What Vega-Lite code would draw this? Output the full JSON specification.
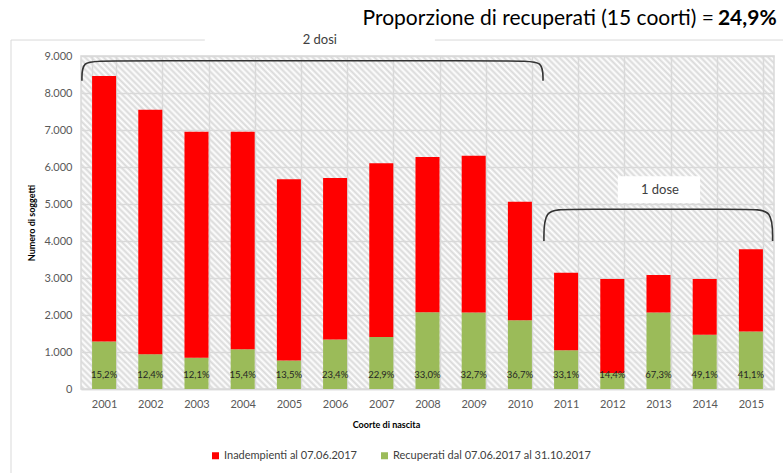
{
  "$schema": "https://vega.github.io/schema/vega-lite/v6.json",
  "width": 693,
  "height": 333,
  "autosize": "none",
  "padding": {"left": 81, "top": 56, "right": 9, "bottom": 84},
  "background": "white",
  "config": {
    "font": "Lato",
    "view": {
      "stroke": "#d9d9d9",
      "strokeWidth": 1.5,
      "fill": {
        "gradient": "linear", "x1": 0, "y1": 1, "x2": 1.203, "y2": 0.4225,
        "stops": [
{"offset":0,"color":"#fff"},{"offset":0.003,"color":"#d9d9d9"},{"offset":0.006,"color":"#fff"},{"offset":0.009,"color":"#d9d9d9"},{"offset":0.012,"color":"#fff"},{"offset":0.015,"color":"#d9d9d9"},{"offset":0.018,"color":"#fff"},{"offset":0.021,"color":"#d9d9d9"},{"offset":0.024,"color":"#fff"},{"offset":0.027,"color":"#d9d9d9"},
{"offset":0.03,"color":"#fff"},{"offset":0.033,"color":"#d9d9d9"},{"offset":0.036,"color":"#fff"},{"offset":0.039,"color":"#d9d9d9"},{"offset":0.042,"color":"#fff"},{"offset":0.045,"color":"#d9d9d9"},{"offset":0.048,"color":"#fff"},{"offset":0.051,"color":"#d9d9d9"},{"offset":0.054,"color":"#fff"},{"offset":0.057,"color":"#d9d9d9"},
{"offset":0.06,"color":"#fff"},{"offset":0.063,"color":"#d9d9d9"},{"offset":0.066,"color":"#fff"},{"offset":0.069,"color":"#d9d9d9"},{"offset":0.072,"color":"#fff"},{"offset":0.075,"color":"#d9d9d9"},{"offset":0.078,"color":"#fff"},{"offset":0.081,"color":"#d9d9d9"},{"offset":0.084,"color":"#fff"},{"offset":0.087,"color":"#d9d9d9"},
{"offset":0.09,"color":"#fff"},{"offset":0.093,"color":"#d9d9d9"},{"offset":0.096,"color":"#fff"},{"offset":0.099,"color":"#d9d9d9"},{"offset":0.102,"color":"#fff"},{"offset":0.105,"color":"#d9d9d9"},{"offset":0.108,"color":"#fff"},{"offset":0.111,"color":"#d9d9d9"},{"offset":0.114,"color":"#fff"},{"offset":0.117,"color":"#d9d9d9"},
{"offset":0.12,"color":"#fff"},{"offset":0.123,"color":"#d9d9d9"},{"offset":0.126,"color":"#fff"},{"offset":0.129,"color":"#d9d9d9"},{"offset":0.132,"color":"#fff"},{"offset":0.135,"color":"#d9d9d9"},{"offset":0.138,"color":"#fff"},{"offset":0.141,"color":"#d9d9d9"},{"offset":0.144,"color":"#fff"},{"offset":0.147,"color":"#d9d9d9"},
{"offset":0.15,"color":"#fff"},{"offset":0.153,"color":"#d9d9d9"},{"offset":0.156,"color":"#fff"},{"offset":0.159,"color":"#d9d9d9"},{"offset":0.162,"color":"#fff"},{"offset":0.165,"color":"#d9d9d9"},{"offset":0.168,"color":"#fff"},{"offset":0.171,"color":"#d9d9d9"},{"offset":0.174,"color":"#fff"},{"offset":0.177,"color":"#d9d9d9"},
{"offset":0.18,"color":"#fff"},{"offset":0.183,"color":"#d9d9d9"},{"offset":0.186,"color":"#fff"},{"offset":0.189,"color":"#d9d9d9"},{"offset":0.192,"color":"#fff"},{"offset":0.195,"color":"#d9d9d9"},{"offset":0.198,"color":"#fff"},{"offset":0.201,"color":"#d9d9d9"},{"offset":0.204,"color":"#fff"},{"offset":0.207,"color":"#d9d9d9"},
{"offset":0.21,"color":"#fff"},{"offset":0.213,"color":"#d9d9d9"},{"offset":0.216,"color":"#fff"},{"offset":0.219,"color":"#d9d9d9"},{"offset":0.222,"color":"#fff"},{"offset":0.225,"color":"#d9d9d9"},{"offset":0.228,"color":"#fff"},{"offset":0.231,"color":"#d9d9d9"},{"offset":0.234,"color":"#fff"},{"offset":0.237,"color":"#d9d9d9"},
{"offset":0.24,"color":"#fff"},{"offset":0.243,"color":"#d9d9d9"},{"offset":0.246,"color":"#fff"},{"offset":0.249,"color":"#d9d9d9"},{"offset":0.252,"color":"#fff"},{"offset":0.255,"color":"#d9d9d9"},{"offset":0.258,"color":"#fff"},{"offset":0.261,"color":"#d9d9d9"},{"offset":0.264,"color":"#fff"},{"offset":0.267,"color":"#d9d9d9"},
{"offset":0.27,"color":"#fff"},{"offset":0.273,"color":"#d9d9d9"},{"offset":0.276,"color":"#fff"},{"offset":0.279,"color":"#d9d9d9"},{"offset":0.282,"color":"#fff"},{"offset":0.285,"color":"#d9d9d9"},{"offset":0.288,"color":"#fff"},{"offset":0.291,"color":"#d9d9d9"},{"offset":0.294,"color":"#fff"},{"offset":0.297,"color":"#d9d9d9"},
{"offset":0.3,"color":"#fff"},{"offset":0.303,"color":"#d9d9d9"},{"offset":0.306,"color":"#fff"},{"offset":0.309,"color":"#d9d9d9"},{"offset":0.312,"color":"#fff"},{"offset":0.315,"color":"#d9d9d9"},{"offset":0.318,"color":"#fff"},{"offset":0.321,"color":"#d9d9d9"},{"offset":0.324,"color":"#fff"},{"offset":0.327,"color":"#d9d9d9"},
{"offset":0.33,"color":"#fff"},{"offset":0.333,"color":"#d9d9d9"},{"offset":0.336,"color":"#fff"},{"offset":0.339,"color":"#d9d9d9"},{"offset":0.342,"color":"#fff"},{"offset":0.345,"color":"#d9d9d9"},{"offset":0.348,"color":"#fff"},{"offset":0.351,"color":"#d9d9d9"},{"offset":0.354,"color":"#fff"},{"offset":0.357,"color":"#d9d9d9"},
{"offset":0.36,"color":"#fff"},{"offset":0.363,"color":"#d9d9d9"},{"offset":0.366,"color":"#fff"},{"offset":0.369,"color":"#d9d9d9"},{"offset":0.372,"color":"#fff"},{"offset":0.375,"color":"#d9d9d9"},{"offset":0.378,"color":"#fff"},{"offset":0.381,"color":"#d9d9d9"},{"offset":0.384,"color":"#fff"},{"offset":0.387,"color":"#d9d9d9"},
{"offset":0.39,"color":"#fff"},{"offset":0.393,"color":"#d9d9d9"},{"offset":0.396,"color":"#fff"},{"offset":0.399,"color":"#d9d9d9"},{"offset":0.402,"color":"#fff"},{"offset":0.405,"color":"#d9d9d9"},{"offset":0.408,"color":"#fff"},{"offset":0.411,"color":"#d9d9d9"},{"offset":0.414,"color":"#fff"},{"offset":0.417,"color":"#d9d9d9"},
{"offset":0.42,"color":"#fff"},{"offset":0.423,"color":"#d9d9d9"},{"offset":0.426,"color":"#fff"},{"offset":0.429,"color":"#d9d9d9"},{"offset":0.432,"color":"#fff"},{"offset":0.435,"color":"#d9d9d9"},{"offset":0.438,"color":"#fff"},{"offset":0.441,"color":"#d9d9d9"},{"offset":0.444,"color":"#fff"},{"offset":0.447,"color":"#d9d9d9"},
{"offset":0.45,"color":"#fff"},{"offset":0.453,"color":"#d9d9d9"},{"offset":0.456,"color":"#fff"},{"offset":0.459,"color":"#d9d9d9"},{"offset":0.462,"color":"#fff"},{"offset":0.465,"color":"#d9d9d9"},{"offset":0.468,"color":"#fff"},{"offset":0.471,"color":"#d9d9d9"},{"offset":0.474,"color":"#fff"},{"offset":0.477,"color":"#d9d9d9"},
{"offset":0.48,"color":"#fff"},{"offset":0.483,"color":"#d9d9d9"},{"offset":0.486,"color":"#fff"},{"offset":0.489,"color":"#d9d9d9"},{"offset":0.492,"color":"#fff"},{"offset":0.495,"color":"#d9d9d9"},{"offset":0.498,"color":"#fff"},{"offset":0.501,"color":"#d9d9d9"},{"offset":0.504,"color":"#fff"},{"offset":0.507,"color":"#d9d9d9"},
{"offset":0.51,"color":"#fff"},{"offset":0.513,"color":"#d9d9d9"},{"offset":0.516,"color":"#fff"},{"offset":0.519,"color":"#d9d9d9"},{"offset":0.522,"color":"#fff"},{"offset":0.525,"color":"#d9d9d9"},{"offset":0.528,"color":"#fff"},{"offset":0.531,"color":"#d9d9d9"},{"offset":0.534,"color":"#fff"},{"offset":0.537,"color":"#d9d9d9"},
{"offset":0.54,"color":"#fff"},{"offset":0.543,"color":"#d9d9d9"},{"offset":0.546,"color":"#fff"},{"offset":0.549,"color":"#d9d9d9"},{"offset":0.552,"color":"#fff"},{"offset":0.555,"color":"#d9d9d9"},{"offset":0.558,"color":"#fff"},{"offset":0.561,"color":"#d9d9d9"},{"offset":0.564,"color":"#fff"},{"offset":0.567,"color":"#d9d9d9"},
{"offset":0.57,"color":"#fff"},{"offset":0.573,"color":"#d9d9d9"},{"offset":0.576,"color":"#fff"},{"offset":0.579,"color":"#d9d9d9"},{"offset":0.582,"color":"#fff"},{"offset":0.585,"color":"#d9d9d9"},{"offset":0.588,"color":"#fff"},{"offset":0.591,"color":"#d9d9d9"},{"offset":0.594,"color":"#fff"},{"offset":0.597,"color":"#d9d9d9"},
{"offset":0.6,"color":"#fff"},{"offset":0.603,"color":"#d9d9d9"},{"offset":0.606,"color":"#fff"},{"offset":0.609,"color":"#d9d9d9"},{"offset":0.612,"color":"#fff"},{"offset":0.615,"color":"#d9d9d9"},{"offset":0.618,"color":"#fff"},{"offset":0.621,"color":"#d9d9d9"},{"offset":0.624,"color":"#fff"},{"offset":0.627,"color":"#d9d9d9"},
{"offset":0.63,"color":"#fff"},{"offset":0.633,"color":"#d9d9d9"},{"offset":0.636,"color":"#fff"},{"offset":0.639,"color":"#d9d9d9"},{"offset":0.642,"color":"#fff"},{"offset":0.645,"color":"#d9d9d9"},{"offset":0.648,"color":"#fff"},{"offset":0.651,"color":"#d9d9d9"},{"offset":0.654,"color":"#fff"},{"offset":0.657,"color":"#d9d9d9"},
{"offset":0.66,"color":"#fff"},{"offset":0.663,"color":"#d9d9d9"},{"offset":0.666,"color":"#fff"},{"offset":0.669,"color":"#d9d9d9"},{"offset":0.672,"color":"#fff"},{"offset":0.675,"color":"#d9d9d9"},{"offset":0.678,"color":"#fff"},{"offset":0.681,"color":"#d9d9d9"},{"offset":0.684,"color":"#fff"},{"offset":0.687,"color":"#d9d9d9"},
{"offset":0.69,"color":"#fff"},{"offset":0.693,"color":"#d9d9d9"},{"offset":0.696,"color":"#fff"},{"offset":0.699,"color":"#d9d9d9"},{"offset":0.702,"color":"#fff"},{"offset":0.705,"color":"#d9d9d9"},{"offset":0.708,"color":"#fff"},{"offset":0.711,"color":"#d9d9d9"},{"offset":0.714,"color":"#fff"},{"offset":0.717,"color":"#d9d9d9"},
{"offset":0.72,"color":"#fff"},{"offset":0.723,"color":"#d9d9d9"},{"offset":0.726,"color":"#fff"},{"offset":0.729,"color":"#d9d9d9"},{"offset":0.732,"color":"#fff"},{"offset":0.735,"color":"#d9d9d9"},{"offset":0.738,"color":"#fff"},{"offset":0.741,"color":"#d9d9d9"},{"offset":0.744,"color":"#fff"},{"offset":0.747,"color":"#d9d9d9"},
{"offset":0.75,"color":"#fff"},{"offset":0.753,"color":"#d9d9d9"},{"offset":0.756,"color":"#fff"},{"offset":0.759,"color":"#d9d9d9"},{"offset":0.762,"color":"#fff"},{"offset":0.765,"color":"#d9d9d9"},{"offset":0.768,"color":"#fff"},{"offset":0.771,"color":"#d9d9d9"},{"offset":0.774,"color":"#fff"},{"offset":0.777,"color":"#d9d9d9"},
{"offset":0.78,"color":"#fff"},{"offset":0.783,"color":"#d9d9d9"},{"offset":0.786,"color":"#fff"},{"offset":0.789,"color":"#d9d9d9"},{"offset":0.792,"color":"#fff"},{"offset":0.795,"color":"#d9d9d9"},{"offset":0.798,"color":"#fff"},{"offset":0.801,"color":"#d9d9d9"},{"offset":0.804,"color":"#fff"},{"offset":0.807,"color":"#d9d9d9"},
{"offset":0.81,"color":"#fff"},{"offset":0.813,"color":"#d9d9d9"},{"offset":0.816,"color":"#fff"},{"offset":0.819,"color":"#d9d9d9"},{"offset":0.822,"color":"#fff"},{"offset":0.825,"color":"#d9d9d9"},{"offset":0.828,"color":"#fff"},{"offset":0.831,"color":"#d9d9d9"},{"offset":0.834,"color":"#fff"},{"offset":0.837,"color":"#d9d9d9"},
{"offset":0.84,"color":"#fff"},{"offset":0.843,"color":"#d9d9d9"},{"offset":0.846,"color":"#fff"},{"offset":0.849,"color":"#d9d9d9"},{"offset":0.852,"color":"#fff"},{"offset":0.855,"color":"#d9d9d9"},{"offset":0.858,"color":"#fff"},{"offset":0.861,"color":"#d9d9d9"},{"offset":0.864,"color":"#fff"},{"offset":0.867,"color":"#d9d9d9"},
{"offset":0.87,"color":"#fff"},{"offset":0.873,"color":"#d9d9d9"},{"offset":0.876,"color":"#fff"},{"offset":0.879,"color":"#d9d9d9"},{"offset":0.882,"color":"#fff"},{"offset":0.885,"color":"#d9d9d9"},{"offset":0.888,"color":"#fff"},{"offset":0.891,"color":"#d9d9d9"},{"offset":0.894,"color":"#fff"},{"offset":0.897,"color":"#d9d9d9"},
{"offset":0.9,"color":"#fff"},{"offset":0.903,"color":"#d9d9d9"},{"offset":0.906,"color":"#fff"},{"offset":0.909,"color":"#d9d9d9"},{"offset":0.912,"color":"#fff"},{"offset":0.915,"color":"#d9d9d9"},{"offset":0.918,"color":"#fff"},{"offset":0.921,"color":"#d9d9d9"},{"offset":0.924,"color":"#fff"},{"offset":0.927,"color":"#d9d9d9"},
{"offset":0.93,"color":"#fff"},{"offset":0.933,"color":"#d9d9d9"},{"offset":0.936,"color":"#fff"},{"offset":0.939,"color":"#d9d9d9"},{"offset":0.942,"color":"#fff"},{"offset":0.945,"color":"#d9d9d9"},{"offset":0.948,"color":"#fff"},{"offset":0.951,"color":"#d9d9d9"},{"offset":0.954,"color":"#fff"},{"offset":0.957,"color":"#d9d9d9"},
{"offset":0.96,"color":"#fff"},{"offset":0.963,"color":"#d9d9d9"},{"offset":0.966,"color":"#fff"},{"offset":0.969,"color":"#d9d9d9"},{"offset":0.972,"color":"#fff"},{"offset":0.975,"color":"#d9d9d9"},{"offset":0.978,"color":"#fff"},{"offset":0.981,"color":"#d9d9d9"},{"offset":0.984,"color":"#fff"},{"offset":0.987,"color":"#d9d9d9"},
{"offset":0.99,"color":"#fff"},{"offset":0.993,"color":"#d9d9d9"},{"offset":0.996,"color":"#fff"},{"offset":0.999,"color":"#d9d9d9"},{"offset":1,"color":"#fff"}
        ]
      }
    }
  },
  "datasets": {
    "coorti": [
      {"coorte": "2001", "serie": "Recuperati dal 07.06.2017 al 31.10.2017", "n": 1285, "perc": "15,2%"},
      {"coorte": "2001", "serie": "Inadempienti al 07.06.2017", "n": 7175},
      {"coorte": "2002", "serie": "Recuperati dal 07.06.2017 al 31.10.2017", "n": 940, "perc": "12,4%"},
      {"coorte": "2002", "serie": "Inadempienti al 07.06.2017", "n": 6610},
      {"coorte": "2003", "serie": "Recuperati dal 07.06.2017 al 31.10.2017", "n": 845, "perc": "12,1%"},
      {"coorte": "2003", "serie": "Inadempienti al 07.06.2017", "n": 6105},
      {"coorte": "2004", "serie": "Recuperati dal 07.06.2017 al 31.10.2017", "n": 1075, "perc": "15,4%"},
      {"coorte": "2004", "serie": "Inadempienti al 07.06.2017", "n": 5875},
      {"coorte": "2005", "serie": "Recuperati dal 07.06.2017 al 31.10.2017", "n": 770, "perc": "13,5%"},
      {"coorte": "2005", "serie": "Inadempienti al 07.06.2017", "n": 4900},
      {"coorte": "2006", "serie": "Recuperati dal 07.06.2017 al 31.10.2017", "n": 1340, "perc": "23,4%"},
      {"coorte": "2006", "serie": "Inadempienti al 07.06.2017", "n": 4360},
      {"coorte": "2007", "serie": "Recuperati dal 07.06.2017 al 31.10.2017", "n": 1405, "perc": "22,9%"},
      {"coorte": "2007", "serie": "Inadempienti al 07.06.2017", "n": 4695},
      {"coorte": "2008", "serie": "Recuperati dal 07.06.2017 al 31.10.2017", "n": 2075, "perc": "33,0%"},
      {"coorte": "2008", "serie": "Inadempienti al 07.06.2017", "n": 4195},
      {"coorte": "2009", "serie": "Recuperati dal 07.06.2017 al 31.10.2017", "n": 2065, "perc": "32,7%"},
      {"coorte": "2009", "serie": "Inadempienti al 07.06.2017", "n": 4240},
      {"coorte": "2010", "serie": "Recuperati dal 07.06.2017 al 31.10.2017", "n": 1860, "perc": "36,7%"},
      {"coorte": "2010", "serie": "Inadempienti al 07.06.2017", "n": 3200},
      {"coorte": "2011", "serie": "Recuperati dal 07.06.2017 al 31.10.2017", "n": 1045, "perc": "33,1%"},
      {"coorte": "2011", "serie": "Inadempienti al 07.06.2017", "n": 2100},
      {"coorte": "2012", "serie": "Recuperati dal 07.06.2017 al 31.10.2017", "n": 430, "perc": "14,4%"},
      {"coorte": "2012", "serie": "Inadempienti al 07.06.2017", "n": 2545},
      {"coorte": "2013", "serie": "Recuperati dal 07.06.2017 al 31.10.2017", "n": 2070, "perc": "67,3%"},
      {"coorte": "2013", "serie": "Inadempienti al 07.06.2017", "n": 1010},
      {"coorte": "2014", "serie": "Recuperati dal 07.06.2017 al 31.10.2017", "n": 1465, "perc": "49,1%"},
      {"coorte": "2014", "serie": "Inadempienti al 07.06.2017", "n": 1510},
      {"coorte": "2015", "serie": "Recuperati dal 07.06.2017 al 31.10.2017", "n": 1555, "perc": "41,1%"},
      {"coorte": "2015", "serie": "Inadempienti al 07.06.2017", "n": 2220}
    ],
    "parentesi": [
      {"g": "a", "i": 1, "px": 2000.52, "py": 8330},
      {"g": "a", "i": 2, "px": 2000.52, "py": 8870},
      {"g": "a", "i": 3, "px": 2000.95, "py": 8870},
      {"g": "a", "i": 4, "px": 2010.05, "py": 8870},
      {"g": "a", "i": 5, "px": 2010.5, "py": 8870},
      {"g": "a", "i": 6, "px": 2010.5, "py": 8330},
      {"g": "b", "i": 1, "px": 2010.52, "py": 4000},
      {"g": "b", "i": 2, "px": 2010.52, "py": 4860},
      {"g": "b", "i": 3, "px": 2011.0, "py": 4860},
      {"g": "b", "i": 4, "px": 2014.98, "py": 4860},
      {"g": "b", "i": 5, "px": 2015.47, "py": 4860},
      {"g": "b", "i": 6, "px": 2015.47, "py": 4000}
    ],
    "cornice": [
      {"xa": 1998.985, "xb": 2003.18, "ya": 9432, "yb": 9432},
      {"xa": 2008.16, "xb": 2015.8, "ya": 9432, "yb": 9432},
      {"xa": 1998.985, "xb": 1998.985, "ya": 9432, "yb": -2400}
    ]
  },
  "layer": [
    {
      "data": {"name": "coorti"},
      "mark": {"type": "bar"},
      "encoding": {
        "x": {
          "field": "coorte", "type": "ordinal",
          "scale": {"paddingInner": 0.48, "paddingOuter": 0.24},
          "axis": {
            "title": "Coorte di nascita", "titleFontSize": 9, "titleFontWeight": "bold", "titleColor": "#000000",
            "titleX": 305, "titlePadding": 11,
            "labelAngle": 0, "labelFontSize": 11, "labelColor": "#595959", "labelPadding": 9,
            "ticks": false, "domainColor": "#d9d9d9", "domainWidth": 1.5,
            "grid": true, "gridColor": "#d9d9d9", "gridWidth": 1.5, "tickBand": "extent"
          }
        },
        "y": {
          "field": "n", "type": "quantitative", "stack": "zero",
          "scale": {"domain": [0, 9000], "nice": false},
          "axis": {
            "title": "Numero di soggetti", "titleFontSize": 9, "titleFontWeight": "bold", "titleColor": "#000000",
            "titlePadding": 7,
            "values": [0, 1000, 2000, 3000, 4000, 5000, 6000, 7000, 8000, 9000],
            "labelOverlap": false,
            "labelExpr": "replace(format(datum.value, ','), ',', '.')",
            "labelFontSize": 11, "labelColor": "#595959", "labelPadding": 9,
            "ticks": false, "domain": false,
            "grid": true, "gridColor": "#d9d9d9", "gridWidth": 1.5
          }
        },
        "color": {
          "field": "serie", "type": "nominal",
          "scale": {
            "domain": ["Inadempienti al 07.06.2017", "Recuperati dal 07.06.2017 al 31.10.2017"],
            "range": ["#ff0000", "#9bbb59"]
          },
          "legend": {
            "title": null, "orient": "none", "legendX": 129, "legendY": 394,
            "direction": "horizontal", "symbolType": "square", "symbolSize": 49,
            "symbolStrokeWidth": 0, "labelFontSize": 11, "labelColor": "#404040",
            "labelOffset": 3, "columnPadding": 22, "padding": 0, "labelLimit": 400
          }
        },
        "order": {"field": "serie", "sort": "descending"}
      }
    },
    {
      "layer": [
        {
          "data": {"name": "cornice"},
          "mark": {"type": "rule", "stroke": "#d9d9d9", "strokeWidth": 1},
          "encoding": {
            "x": {"field": "xa", "type": "quantitative", "scale": {"domain": [2000.5, 2015.5], "nice": false, "zero": false}, "axis": null},
            "x2": {"field": "xb"},
            "y": {"field": "ya", "type": "quantitative", "scale": {"domain": [0, 9000], "nice": false}, "axis": null},
            "y2": {"field": "yb"}
          }
        },
        {
          "data": {"name": "coorti"},
          "transform": [{"filter": "isValid(datum.perc)"}],
          "mark": {"type": "text", "fontSize": 9.5, "fill": "#262626", "baseline": "middle"},
          "encoding": {
            "x": {"field": "coorte", "type": "quantitative"},
            "y": {"datum": 380},
            "text": {"field": "perc"}
          }
        },
        {
          "data": {"name": "parentesi"},
          "mark": {"type": "line", "interpolate": "basis", "stroke": "#333333", "strokeWidth": 1.6},
          "encoding": {
            "x": {"field": "px", "type": "quantitative"},
            "y": {"field": "py", "type": "quantitative"},
            "detail": {"field": "g"},
            "order": {"field": "i"}
          }
        },
        {
          "data": {"values": [{}]},
          "mark": {"type": "rect", "fill": "#ffffff"},
          "encoding": {
            "x": {"datum": 2012.12}, "x2": {"datum": 2013.9},
            "y": {"datum": 5750}, "y2": {"datum": 5030}
          }
        },
        {
          "data": {"values": [{}]},
          "mark": {"type": "text", "fontSize": 13, "fill": "#404040", "baseline": "middle"},
          "encoding": {
            "x": {"datum": 2013.03}, "y": {"datum": 5380},
            "text": {"value": "1 dose"}
          }
        },
        {
          "data": {"values": [{}]},
          "mark": {"type": "text", "fontSize": 13, "fill": "#404040", "baseline": "middle"},
          "encoding": {
            "x": {"datum": 2005.67}, "y": {"datum": 9432},
            "text": {"value": "2 dosi"}
          }
        },
        {
          "data": {"values": [{}]},
          "mark": {"type": "text", "fontSize": 21, "fill": "#000000", "baseline": "middle", "align": "right"},
          "encoding": {
            "x": {"datum": 2014.2}, "y": {"datum": 10000},
            "text": {"value": "Proporzione di recuperati (15 coorti) = "}
          }
        },
        {
          "data": {"values": [{}]},
          "mark": {"type": "text", "fontSize": 21, "fontWeight": "bold", "fill": "#000000", "baseline": "middle", "align": "left", "dx": 4},
          "encoding": {
            "x": {"datum": 2014.2}, "y": {"datum": 10000},
            "text": {"value": "24,9%"}
          }
        }
      ]
    }
  ],
  "resolve": {"scale": {"x": "independent", "y": "independent"}}
}
